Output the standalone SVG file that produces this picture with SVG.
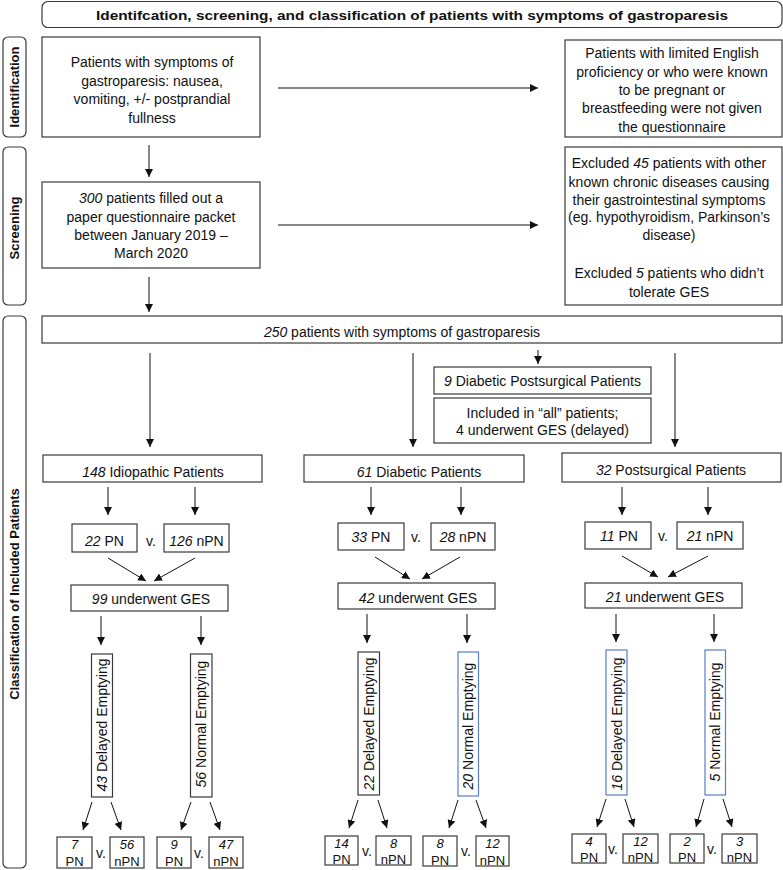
<svg xmlns="http://www.w3.org/2000/svg" width="783" height="870" viewBox="0 0 783 870">
<defs>
<marker id="ah" viewBox="0 0 10 10" refX="10" refY="5" markerUnits="userSpaceOnUse" markerWidth="8" markerHeight="8" orient="auto">
<path d="M0,0 L10,5 L0,10 z" fill="#111"/>
</marker>
<style>
.b{fill:#fff;stroke:#3a3a3a;stroke-width:1.2}
.bl{fill:#fff;stroke:#5a7ec6;stroke-width:1.2}
.s{fill:#fff;stroke:#3a3a3a;stroke-width:1.2}
text{font-family:"Liberation Sans",Arial,sans-serif;font-size:14px;fill:#111}
.c{text-anchor:middle}
.h{font-weight:bold;font-size:13px}
.i{font-style:italic}
.sm{font-size:13px}
.cn line{stroke:#111;stroke-width:1;marker-end:url(#ah)}
</style>
</defs>
<rect width="783" height="870" fill="#fff"/>

<g id="title">
<rect class="s" x="42" y="1.5" width="740" height="26" rx="6"/>
<text class="c h" x="412" y="20" textLength="632" lengthAdjust="spacingAndGlyphs">Identifcation, screening, and classification of patients with symptoms of gastroparesis</text>
</g>

<g id="side-identification">
<rect class="s" x="3" y="37" width="23" height="100" rx="5"/>
<text class="c h" transform="translate(19,87) rotate(-90)">Identification</text>
</g>
<g id="side-screening">
<rect class="s" x="3" y="147" width="23" height="158" rx="5"/>
<text class="c h" transform="translate(19,228) rotate(-90)">Screening</text>
</g>
<g id="side-classification">
<rect class="s" x="3" y="316" width="23" height="552" rx="5"/>
<text class="c h" transform="translate(19,594) rotate(-90)">Classification of Included Patients</text>
</g>

<g id="n-ident">
<rect class="b" x="42" y="37" width="218" height="100"/>
<text class="c" x="152" y="67">Patients with symptoms of</text>
<text class="c" x="152" y="85.5">gastroparesis: nausea,</text>
<text class="c" x="152" y="104">vomiting, +/- postprandial</text>
<text class="c" x="152" y="122.5">fullness</text>
</g>
<g id="n-excl1">
<rect class="b" x="565" y="40" width="217" height="97"/>
<text class="c" x="672" y="58">Patients with limited English</text>
<text class="c" x="672" y="77">proficiency or who were known</text>
<text class="c" x="672" y="95">to be pregnant or</text>
<text class="c" x="672" y="113">breastfeeding were not given</text>
<text class="c" x="672" y="132">the questionnaire</text>
</g>
<g id="n-screen">
<rect class="b" x="42" y="182" width="218" height="86"/>
<text class="c" x="151" y="203"><tspan class="i">300</tspan> patients filled out a</text>
<text class="c" x="151" y="222">paper questionnaire packet</text>
<text class="c" x="151" y="240">between January 2019 –</text>
<text class="c" x="151" y="258">March 2020</text>
</g>
<g id="n-excl2">
<rect class="b" x="565" y="147" width="217" height="158"/>
<text class="c" x="669" y="168">Excluded <tspan class="i">45</tspan> patients with other</text>
<text class="c" x="669" y="187">known chronic diseases causing</text>
<text class="c" x="669" y="205">their gastrointestinal symptoms</text>
<text class="c" x="669" y="222">(eg. hypothyroidism, Parkinson’s</text>
<text class="c" x="669" y="240">disease)</text>
<text class="c" x="669" y="278">Excluded <tspan class="i">5</tspan> patients who didn’t</text>
<text class="c" x="669" y="297">tolerate GES</text>
</g>
<g id="n-250">
<rect class="b" x="42" y="316" width="740" height="27"/>
<text class="c" x="402" y="337"><tspan class="i">250</tspan> patients with symptoms of gastroparesis</text>
</g>
<g id="n-dps">
<rect class="b" x="434" y="367" width="217" height="27"/>
<text class="c" x="542.5" y="386"><tspan class="i">9</tspan> Diabetic Postsurgical Patients</text>
</g>
<g id="n-included">
<rect class="b" x="434" y="398" width="217" height="45"/>
<text class="c" x="542.5" y="418">Included in “all” patients;</text>
<text class="c" x="542.5" y="435">4 underwent GES (delayed)</text>
</g>

<g id="n-idio">
<rect class="b" x="43" y="455" width="219" height="27"/>
<text class="c" x="153" y="477"><tspan class="i">148</tspan> Idiopathic Patients</text>
</g>
<g id="n-diab">
<rect class="b" x="304" y="455" width="220" height="27"/>
<text class="c" x="419" y="477"><tspan class="i">61</tspan> Diabetic Patients</text>
</g>
<g id="n-post">
<rect class="b" x="562" y="453" width="219" height="29"/>
<text class="c" x="671" y="475"><tspan class="i">32</tspan> Postsurgical Patients</text>
</g>

<g id="n-idio-pn">
<rect class="b" x="72" y="524" width="65" height="28"/>
<text class="c" x="104.5" y="546"><tspan class="i">22</tspan> PN</text>
</g>
<text x="151" y="546" class="c">v.</text>
<g id="n-idio-npn">
<rect class="b" x="164" y="524" width="65" height="28"/>
<text class="c" x="196.5" y="546"><tspan class="i">126</tspan> nPN</text>
</g>
<g id="n-diab-pn">
<rect class="b" x="338" y="523" width="66" height="27"/>
<text class="c" x="371" y="542"><tspan class="i">33</tspan> PN</text>
</g>
<text x="416" y="542" class="c">v.</text>
<g id="n-diab-npn">
<rect class="b" x="431" y="523" width="64" height="27"/>
<text class="c" x="463" y="542"><tspan class="i">28</tspan> nPN</text>
</g>
<g id="n-post-pn">
<rect class="b" x="585" y="522" width="66" height="27"/>
<text class="c" x="619" y="541"><tspan class="i">11</tspan> PN</text>
</g>
<text x="663" y="541" class="c">v.</text>
<g id="n-post-npn">
<rect class="b" x="677" y="522" width="66" height="27"/>
<text class="c" x="710" y="541"><tspan class="i">21</tspan> nPN</text>
</g>

<g id="n-idio-ges">
<rect class="b" x="71" y="585" width="157" height="26"/>
<text class="c" x="151" y="604"><tspan class="i">99</tspan> underwent GES</text>
</g>
<g id="n-diab-ges">
<rect class="b" x="338" y="583" width="157" height="26"/>
<text class="c" x="418" y="603"><tspan class="i">42</tspan> underwent GES</text>
</g>
<g id="n-post-ges">
<rect class="b" x="585" y="583" width="157" height="25"/>
<text class="c" x="665" y="602"><tspan class="i">21</tspan> underwent GES</text>
</g>

<g id="n-idio-del">
<rect class="b" x="91.5" y="654" width="21" height="143"/>
<text class="c" transform="translate(107,725) rotate(-90)"><tspan class="i">43</tspan> Delayed Emptying</text>
</g>
<g id="n-idio-nor">
<rect class="b" x="190.5" y="654" width="21.5" height="143"/>
<text class="c" transform="translate(206,724) rotate(-90)"><tspan class="i">56</tspan> Normal Emptying</text>
</g>
<g id="n-diab-del">
<rect class="b" x="358" y="652" width="21.5" height="143"/>
<text class="c" transform="translate(374,724) rotate(-90)"><tspan class="i">22</tspan> Delayed Emptying</text>
</g>
<g id="n-diab-nor">
<rect class="bl" x="458" y="652" width="20.5" height="144"/>
<text class="c" transform="translate(473,726) rotate(-90)"><tspan class="i">20</tspan> Normal Emptying</text>
</g>
<g id="n-post-del">
<rect class="bl" x="606" y="650" width="21" height="145"/>
<text class="c" transform="translate(621.5,724) rotate(-90)"><tspan class="i">16</tspan> Delayed Emptying</text>
</g>
<g id="n-post-nor">
<rect class="bl" x="705" y="650" width="20.5" height="145"/>
<text class="c" transform="translate(720,722) rotate(-90)"><tspan class="i">5</tspan> Normal Emptying</text>
</g>

<g id="n-b1">
<rect class="b" x="57" y="837" width="35" height="31"/>
<text class="c i sm" x="74.5" y="849">7</text><text class="c sm" x="74.5" y="866">PN</text>
</g>
<text x="101" y="858" class="c">v.</text>
<g id="n-b2">
<rect class="b" x="110" y="837" width="34" height="31"/>
<text class="c i sm" x="127" y="849">56</text><text class="c sm" x="127" y="866">nPN</text>
</g>
<g id="n-b3">
<rect class="b" x="157" y="837" width="34" height="31"/>
<text class="c i sm" x="174" y="849">9</text><text class="c sm" x="174" y="866">PN</text>
</g>
<text x="199" y="858" class="c">v.</text>
<g id="n-b4">
<rect class="b" x="209" y="837" width="34" height="31"/>
<text class="c i sm" x="226" y="849">47</text><text class="c sm" x="226" y="866">nPN</text>
</g>
<g id="n-b5">
<rect class="b" x="325" y="836" width="33" height="29"/>
<text class="c i sm" x="341.5" y="848">14</text><text class="c sm" x="341.5" y="863.5">PN</text>
</g>
<text x="367" y="856" class="c">v.</text>
<g id="n-b6">
<rect class="b" x="376" y="836" width="35" height="29"/>
<text class="c i sm" x="393.5" y="848">8</text><text class="c sm" x="393.5" y="863.5">nPN</text>
</g>
<g id="n-b7">
<rect class="b" x="423" y="836" width="34" height="30"/>
<text class="c i sm" x="440" y="848">8</text><text class="c sm" x="440" y="864.5">PN</text>
</g>
<text x="466" y="856" class="c">v.</text>
<g id="n-b8">
<rect class="b" x="476" y="836" width="33" height="30"/>
<text class="c i sm" x="492.5" y="848">12</text><text class="c sm" x="492.5" y="864.5">nPN</text>
</g>
<g id="n-b9">
<rect class="b" x="572" y="834" width="34" height="29"/>
<text class="c i sm" x="589" y="846">4</text><text class="c sm" x="589" y="861.5">PN</text>
</g>
<text x="613" y="854" class="c">v.</text>
<g id="n-b10">
<rect class="b" x="623" y="834" width="35" height="29"/>
<text class="c i sm" x="640.5" y="846">12</text><text class="c sm" x="640.5" y="861.5">nPN</text>
</g>
<g id="n-b11">
<rect class="b" x="670" y="834" width="34" height="29"/>
<text class="c i sm" x="687" y="846">2</text><text class="c sm" x="687" y="861.5">PN</text>
</g>
<text x="712" y="854" class="c">v.</text>
<g id="n-b12">
<rect class="b" x="722" y="834" width="35" height="29"/>
<text class="c i sm" x="739.5" y="846">3</text><text class="c sm" x="739.5" y="861.5">nPN</text>
</g>

<g id="connectors" class="cn">
<line x1="278" y1="88" x2="538" y2="88"/>
<line x1="278" y1="225" x2="538" y2="225"/>
<line x1="149" y1="145" x2="149" y2="177"/>
<line x1="149" y1="277" x2="149" y2="312"/>
<line x1="150" y1="353" x2="150" y2="447"/>
<line x1="413" y1="353" x2="413" y2="447"/>
<line x1="675" y1="353" x2="675" y2="447"/>
<line x1="538" y1="350" x2="538" y2="364"/>
<line x1="108" y1="487" x2="108" y2="515"/>
<line x1="195" y1="487" x2="195" y2="515"/>
<line x1="371" y1="487" x2="371" y2="515"/>
<line x1="461" y1="487" x2="461" y2="515"/>
<line x1="622" y1="487" x2="622" y2="515"/>
<line x1="708" y1="487" x2="708" y2="515"/>
<line x1="108" y1="558" x2="146" y2="581"/>
<line x1="195" y1="558" x2="154" y2="581"/>
<line x1="375" y1="557" x2="410" y2="579"/>
<line x1="460" y1="557" x2="422" y2="579"/>
<line x1="622" y1="556" x2="658" y2="577"/>
<line x1="708" y1="556" x2="668" y2="577"/>
<line x1="101" y1="616" x2="101" y2="645"/>
<line x1="201" y1="616" x2="201" y2="645"/>
<line x1="367" y1="614" x2="367" y2="643"/>
<line x1="467" y1="614" x2="467" y2="643"/>
<line x1="616" y1="614" x2="616" y2="642"/>
<line x1="714" y1="614" x2="714" y2="642"/>
<line x1="92" y1="802" x2="83" y2="830"/>
<line x1="111" y1="802" x2="121" y2="830"/>
<line x1="191" y1="802" x2="181" y2="830"/>
<line x1="210" y1="802" x2="220" y2="830"/>
<line x1="358" y1="800" x2="349" y2="828"/>
<line x1="378" y1="800" x2="387" y2="828"/>
<line x1="458" y1="800" x2="449" y2="828"/>
<line x1="476" y1="800" x2="486" y2="828"/>
<line x1="606" y1="799" x2="597" y2="827"/>
<line x1="625" y1="799" x2="634" y2="827"/>
<line x1="704" y1="799" x2="696" y2="827"/>
<line x1="723" y1="799" x2="732" y2="827"/>
</g>
</svg>
